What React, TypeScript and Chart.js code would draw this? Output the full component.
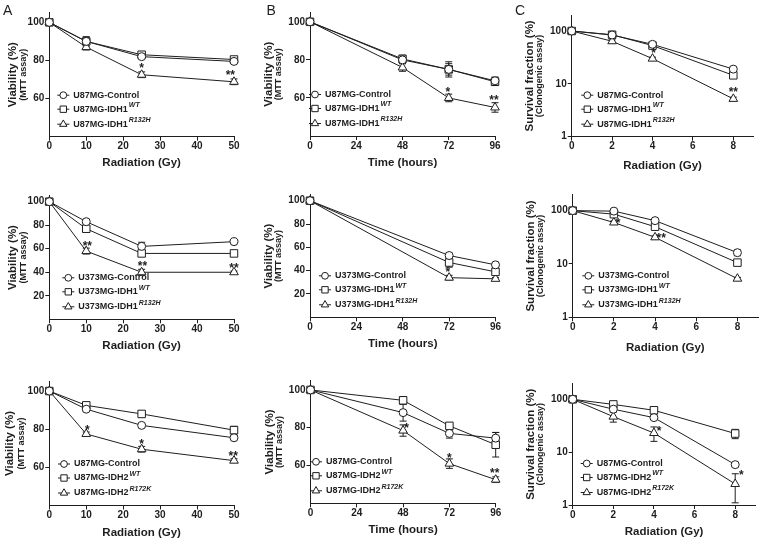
import React, { useEffect, useRef } from 'react';
import { Chart, registerables } from 'chart.js';

Chart.register(...registerables);

const FONT = "'Liberation Sans', Arial, Helvetica, sans-serif";
const INK = '#1e1e1e';

// ---------- x values ----------
const radiationGy = [0, 10, 25, 50];
const timeHours = [0, 48, 72, 96];
const timeHoursU373 = [0, 72, 96];
const clonogenicGy = [0, 2, 4, 8];

// ---------- tick labels ----------
const radiationTicks = [0, 10, 20, 30, 40, 50];
const timeTicks = [0, 24, 48, 72, 96];
const clonogenicTicks = [0, 2, 4, 6, 8];
const viabilityTicksUpper = [60, 80, 100];
const viabilityTicksFull = [20, 40, 60, 80, 100];
const survivalTicks = [1, 10, 100];

// ---------- axis titles ----------
const radiationTitle = 'Radiation (Gy)';
const timeTitle = 'Time (hours)';
const viabilityTitle = ['Viability (%)', '(MTT assay)'];
const survivalTitle = ['Survival fraction (%)', '(Clonogenic assay)'];

// ---------- legends ----------
const legendU87IDH1 = ['U87MG-Control', 'U87MG-IDH1', 'U87MG-IDH1'];
const legendU373IDH1 = ['U373MG-Control', 'U373MG-IDH1', 'U373MG-IDH1'];
const legendU87IDH2 = ['U87MG-Control', 'U87MG-IDH2', 'U87MG-IDH2'];
const supIDH1 = ['', 'WT', 'R132H'];
const supIDH2 = ['', 'WT', 'R172K'];

// ---------- row 1 : U87MG IDH1 ----------
const a1Control = [100, 90, 82, 79.5];
const a1ControlErr = [1, 1.5, 1, 1];
const a1WT = [100, 90, 83, 80.5];
const a1WTErr = [1, 2.5, 1, 1];
const a1Mut = [100, 87, 72.5, 68.8];
const a1MutErr = [1, 1.5, 1.5, 1.5];
const a1StarX = [25, 49];
const a1StarY = [77.4, 74];
const a1StarText = ['*', '**'];

const b1Control = [100, 80, 75, 69];
const b1ControlErr = [0.5, 2, 3, 2];
const b1WT = [100, 80.5, 75, 68.5];
const b1WTErr = [0.5, 2, 4, 2];
const b1Mut = [100, 76, 60, 55];
const b1MutErr = [0.5, 2, 2, 2.5];
const b1StarX = [71.5, 95.5];
const b1StarY = [64.8, 60.4];
const b1StarText = ['*', '**'];

const c1Control = [100, 84, 56, 19];
const c1ControlErr = [0, 4, 4, 1.5];
const c1WT = [100, 85, 53, 14.5];
const c1WTErr = [0, 4, 4, 1];
const c1Mut = [100, 64, 30, 5.2];
const c1MutErr = [0, 4, 2, 0.4];
const c1StarX = [4.05, 8];
const c1StarY = [43.7, 7.95];
const c1StarText = ['*', '**'];

// ---------- row 2 : U373MG IDH1 ----------
const a2Control = [100, 83, 62, 66];
const a2ControlErr = [1, 1.5, 3.5, 1];
const a2WT = [100, 77, 56, 56];
const a2WTErr = [1, 1.5, 2, 1];
const a2Mut = [100, 58, 40, 40];
const a2MutErr = [1, 2.5, 2.5, 1];
const a2StarX = [10.3, 25.2, 50];
const a2StarY = [65, 47.6, 46.2];
const a2StarText = ['**', '**', '**'];

const b2Control = [100, 53, 45];
const b2ControlErr = [0.5, 2, 2];
const b2WT = [100, 47, 39];
const b2WTErr = [0.5, 4, 2];
const b2Mut = [100, 34, 33];
const b2MutErr = [0.5, 2, 1];
const b2StarX = [71.3];
const b2StarY = [41.2];
const b2StarText = ['*'];

const c2Control = [100, 98, 65, 16.3];
const c2ControlErr = [0, 5, 5, 2];
const c2WT = [100, 86, 50, 10.6];
const c2WTErr = [0, 4, 4, 1];
const c2Mut = [100, 60, 31.6, 5.3];
const c2MutErr = [0, 4, 2, 0.3];
const c2StarX = [2.2, 4.3];
const c2StarY = [67, 35];
const c2StarText = ['*', '**'];

// ---------- row 3 : U87MG IDH2 ----------
const a3Control = [100, 90.5, 82, 75.5];
const a3ControlErr = [1, 1, 1, 1];
const a3WT = [100, 92.5, 88, 79.5];
const a3WTErr = [1, 1, 1, 2];
const a3Mut = [100, 77.5, 69.5, 63.5];
const a3MutErr = [1, 1, 1.5, 1];
const a3StarX = [10.3, 25, 49.8];
const a3StarY = [81.3, 73.5, 67.4];
const a3StarText = ['*', '*', '**'];

const b3Control = [100, 88, 77, 74.5];
const b3ControlErr = [0.5, 4.5, 2.5, 3];
const b3WT = [100, 94.5, 81, 71];
const b3WTErr = [0.5, 2, 1.5, 6.5];
const b3Mut = [100, 78.5, 61, 52.5];
const b3MutErr = [0.5, 3, 2.5, 1.5];
const b3StarX = [49.8, 72, 95.5];
const b3StarY = [81.5, 65.6, 57.7];
const b3StarText = ['*', '*', '**'];

const c3Control = [100, 65, 45, 5.8];
const c3ControlErr = [0, 4, 3, 0.5];
const c3WT = [100, 80, 62, 22.5];
const c3WTErr = [0, 5, 9, 4.5];
const c3Mut = [100, 47, 23, 2.5];
const c3MutErr = [0, 10, 7, 1.4];
const c3StarX = [4.25, 8.3];
const c3StarY = [28, 4.1];
const c3StarText = ['*', '*'];

// ---------- styling / layout (page pixel geometry) ----------
const MARKERS = ['circle', 'rect', 'triangle'];
const MARKER_R = [4, 5.3, 5];

type Layout = {
  cx: number; cy: number; cw: number; ch: number;
  left: number; right: number; top: number; bottom: number;
  xTitleY: number; yTitleDx: number[]; legendDx: number; legendDy: number[];
  letter?: string; letterX?: number;
};

const LEG_DY = [-41.5, -27.5, -12.5];

const LAYOUT: Record<string, Layout> = {
  A1: { cx: 0, cy: 0, cw: 252, ch: 180, left: 49.3, right: 234, top: 12.8, bottom: 136.7, xTitleY: 163.3, yTitleDx: [36, 26], legendDx: 14, legendDy: LEG_DY, letter: 'A', letterX: 3 },
  B1: { cx: 252, cy: 0, cw: 258, ch: 180, left: 310, right: 495, top: 12.3, bottom: 136, xTitleY: 163.3, yTitleDx: [41, 31], legendDx: 5, legendDy: LEG_DY, letter: 'B', letterX: 14.5 },
  C1: { cx: 508, cy: 0, cw: 255, ch: 180, left: 571.7, right: 753.5, top: 15.1, bottom: 136.7, xTitleY: 165.7, yTitleDx: [42, 32], legendDx: 15.6, legendDy: LEG_DY, letter: 'C', letterX: 7 },
  A2: { cx: 0, cy: 180, cw: 252, ch: 180, left: 49.3, right: 234, top: 195.8, bottom: 319.3, xTitleY: 345.7, yTitleDx: [36, 26], legendDx: 19, legendDy: LEG_DY },
  B2: { cx: 252, cy: 180, cw: 258, ch: 180, left: 310, right: 495.5, top: 194.9, bottom: 317.3, xTitleY: 344.3, yTitleDx: [41, 31], legendDx: 15, legendDy: LEG_DY },
  C2: { cx: 508, cy: 180, cw: 255, ch: 180, left: 572.7, right: 758, top: 194.6, bottom: 317.3, xTitleY: 348.3, yTitleDx: [42, 32], legendDx: 15.6, legendDy: LEG_DY },
  A3: { cx: 0, cy: 360, cw: 252, ch: 182, left: 49.3, right: 234, top: 381.5, bottom: 505.5, xTitleY: 532.7, yTitleDx: [39, 28], legendDx: 14.7, legendDy: LEG_DY },
  B3: { cx: 252, cy: 360, cw: 258, ch: 182, left: 310.5, right: 495.7, top: 380.5, bottom: 503.3, xTitleY: 530, yTitleDx: [41, 31], legendDx: 5.5, legendDy: LEG_DY },
  C3: { cx: 508, cy: 360, cw: 255, ch: 182, left: 572.7, right: 755.5, top: 383.4, bottom: 505, xTitleY: 532.3, yTitleDx: [42, 32], legendDx: 14, legendDy: LEG_DY },
};

type Panel = {
  key: string;
  x: number[]; xMax: number; xTicks: number[]; xTitle: string;
  log: boolean; yMin: number; yMax: number; yTicks: number[]; yTitle: string[];
  values: number[][]; errors: number[][];
  legend: string[]; sup: string[];
  starX: number[]; starY: number[]; starText: string[];
};

const PANELS: Panel[] = [
  { key: 'A1', x: radiationGy, xMax: 50, xTicks: radiationTicks, xTitle: radiationTitle, log: false, yMin: 40, yMax: 105, yTicks: viabilityTicksUpper, yTitle: viabilityTitle, values: [a1Control, a1WT, a1Mut], errors: [a1ControlErr, a1WTErr, a1MutErr], legend: legendU87IDH1, sup: supIDH1, starX: a1StarX, starY: a1StarY, starText: a1StarText },
  { key: 'B1', x: timeHours, xMax: 96, xTicks: timeTicks, xTitle: timeTitle, log: false, yMin: 40, yMax: 105, yTicks: viabilityTicksUpper, yTitle: viabilityTitle, values: [b1Control, b1WT, b1Mut], errors: [b1ControlErr, b1WTErr, b1MutErr], legend: legendU87IDH1, sup: supIDH1, starX: b1StarX, starY: b1StarY, starText: b1StarText },
  { key: 'C1', x: clonogenicGy, xMax: 9, xTicks: clonogenicTicks, xTitle: radiationTitle, log: true, yMin: 1, yMax: 200, yTicks: survivalTicks, yTitle: survivalTitle, values: [c1Control, c1WT, c1Mut], errors: [c1ControlErr, c1WTErr, c1MutErr], legend: legendU87IDH1, sup: supIDH1, starX: c1StarX, starY: c1StarY, starText: c1StarText },
  { key: 'A2', x: radiationGy, xMax: 50, xTicks: radiationTicks, xTitle: radiationTitle, log: false, yMin: 0, yMax: 105, yTicks: viabilityTicksFull, yTitle: viabilityTitle, values: [a2Control, a2WT, a2Mut], errors: [a2ControlErr, a2WTErr, a2MutErr], legend: legendU373IDH1, sup: supIDH1, starX: a2StarX, starY: a2StarY, starText: a2StarText },
  { key: 'B2', x: timeHoursU373, xMax: 96, xTicks: timeTicks, xTitle: timeTitle, log: false, yMin: 0, yMax: 105, yTicks: viabilityTicksFull, yTitle: viabilityTitle, values: [b2Control, b2WT, b2Mut], errors: [b2ControlErr, b2WTErr, b2MutErr], legend: legendU373IDH1, sup: supIDH1, starX: b2StarX, starY: b2StarY, starText: b2StarText },
  { key: 'C2', x: clonogenicGy, xMax: 9, xTicks: clonogenicTicks, xTitle: radiationTitle, log: true, yMin: 1, yMax: 200, yTicks: survivalTicks, yTitle: survivalTitle, values: [c2Control, c2WT, c2Mut], errors: [c2ControlErr, c2WTErr, c2MutErr], legend: legendU373IDH1, sup: supIDH1, starX: c2StarX, starY: c2StarY, starText: c2StarText },
  { key: 'A3', x: radiationGy, xMax: 50, xTicks: radiationTicks, xTitle: radiationTitle, log: false, yMin: 40, yMax: 105, yTicks: viabilityTicksUpper, yTitle: viabilityTitle, values: [a3Control, a3WT, a3Mut], errors: [a3ControlErr, a3WTErr, a3MutErr], legend: legendU87IDH2, sup: supIDH2, starX: a3StarX, starY: a3StarY, starText: a3StarText },
  { key: 'B3', x: timeHours, xMax: 96, xTicks: timeTicks, xTitle: timeTitle, log: false, yMin: 40, yMax: 105, yTicks: viabilityTicksUpper, yTitle: viabilityTitle, values: [b3Control, b3WT, b3Mut], errors: [b3ControlErr, b3WTErr, b3MutErr], legend: legendU87IDH2, sup: supIDH2, starX: b3StarX, starY: b3StarY, starText: b3StarText },
  { key: 'C3', x: clonogenicGy, xMax: 9, xTicks: clonogenicTicks, xTitle: radiationTitle, log: true, yMin: 1, yMax: 200, yTicks: survivalTicks, yTitle: survivalTitle, values: [c3Control, c3WT, c3Mut], errors: [c3ControlErr, c3WTErr, c3MutErr], legend: legendU87IDH2, sup: supIDH2, starX: c3StarX, starY: c3StarY, starText: c3StarText },
];

const TICK_FONT = { family: FONT, size: 10, weight: 'bold' as const };
const X_TITLE_FS = 11.5;
const STAR_FS = 12;

function drawMarker(ctx: CanvasRenderingContext2D, style: string, x: number, y: number, r: number) {
  ctx.beginPath();
  if (style === 'circle') {
    ctx.arc(x, y, r, 0, Math.PI * 2);
  } else if (style === 'rect') {
    const h = r * Math.SQRT1_2;
    ctx.rect(x - h, y - h, 2 * h, 2 * h);
  } else {
    ctx.moveTo(x, y - r);
    ctx.lineTo(x + r * 0.866, y + r / 2);
    ctx.lineTo(x - r * 0.866, y + r / 2);
    ctx.closePath();
  }
  ctx.fillStyle = '#fff';
  ctx.fill();
  ctx.strokeStyle = INK;
  ctx.lineWidth = 1;
  ctx.stroke();
}

function buildChart(canvas: HTMLCanvasElement, p: Panel) {
  const L = LAYOUT[p.key];
  const xBoxBottom = L.xTitleY + X_TITLE_FS * 0.6;

  const datasets = p.values.map((vals, i) => ({
    label: p.legend[i] + p.sup[i],
    data: p.x.map((xv, j) => ({ x: xv, y: vals[j] })),
    borderColor: INK,
    borderWidth: 1,
    backgroundColor: '#fff',
    pointStyle: MARKERS[i],
    pointRadius: MARKER_R[i],
    pointHoverRadius: MARKER_R[i],
    pointBorderWidth: 1,
    pointBorderColor: INK,
    pointBackgroundColor: '#fff',
    tension: 0,
    fill: false,
    clip: false,
  }));

  const overlay = {
    id: 'overlay' + p.key,
    beforeDatasetsDraw(chart: any) {
      const ctx: CanvasRenderingContext2D = chart.ctx;
      const xs = chart.scales.x;
      const ys = chart.scales.y;
      ctx.save();
      ctx.strokeStyle = INK;
      ctx.lineWidth = 1;
      p.values.forEach((vals, i) => {
        vals.forEach((v, j) => {
          const e = p.errors[i][j];
          if (!e) return;
          const px = xs.getPixelForValue(p.x[j]);
          const lo = p.log ? Math.max(v - e, p.yMin * 1.02) : v - e;
          const yTop = ys.getPixelForValue(v + e);
          const yBot = ys.getPixelForValue(lo);
          const cap = 3.5;
          ctx.beginPath();
          ctx.moveTo(px, yTop); ctx.lineTo(px, yBot);
          ctx.moveTo(px - cap, yTop); ctx.lineTo(px + cap, yTop);
          ctx.moveTo(px - cap, yBot); ctx.lineTo(px + cap, yBot);
          ctx.stroke();
        });
      });
      ctx.restore();
    },
    afterDraw(chart: any) {
      const ctx: CanvasRenderingContext2D = chart.ctx;
      const xs = chart.scales.x;
      const ys = chart.scales.y;
      const area = chart.chartArea;
      ctx.save();
      ctx.fillStyle = INK;

      // y-axis titles (two lines, different sizes)
      const cyMid = (area.top + area.bottom) / 2;
      ctx.textAlign = 'center';
      ctx.textBaseline = 'middle';
      ctx.save();
      ctx.translate(area.left - L.yTitleDx[0], cyMid);
      ctx.rotate(-Math.PI / 2);
      ctx.font = `bold 11.5px ${FONT}`;
      ctx.fillText(p.yTitle[0], 0, 0);
      ctx.restore();
      ctx.save();
      ctx.translate(area.left - L.yTitleDx[1], cyMid);
      ctx.rotate(-Math.PI / 2);
      ctx.font = `bold 9px ${FONT}`;
      ctx.fillText(p.yTitle[1], 0, 0);
      ctx.restore();

      // legend
      p.legend.forEach((name, i) => {
        const ly = area.bottom + L.legendDy[i];
        const mx = area.left + L.legendDx;
        ctx.strokeStyle = INK;
        ctx.lineWidth = 1;
        ctx.beginPath();
        ctx.moveTo(mx - 6, ly); ctx.lineTo(mx + 6, ly);
        ctx.stroke();
        drawMarker(ctx, MARKERS[i], mx, ly, MARKER_R[i] * 0.85);
        ctx.fillStyle = INK;
        ctx.textAlign = 'left';
        ctx.textBaseline = 'middle';
        ctx.font = `bold 9px ${FONT}`;
        const tx = mx + 10;
        ctx.fillText(name, tx, ly);
        if (p.sup[i]) {
          const w = ctx.measureText(name).width;
          ctx.font = `italic bold 7px ${FONT}`;
          ctx.fillText(p.sup[i], tx + w + 1, ly - 4);
        }
      });

      // significance asterisks
      ctx.font = `bold ${STAR_FS}px ${FONT}`;
      ctx.textAlign = 'center';
      ctx.textBaseline = 'alphabetic';
      p.starX.forEach((sx, k) => {
        const px = xs.getPixelForValue(sx);
        const py = ys.getPixelForValue(p.starY[k]);
        ctx.fillText(p.starText[k], px, py + STAR_FS * 0.57);
      });

      // panel letter
      if (L.letter) {
        ctx.font = `14px ${FONT}`;
        ctx.textAlign = 'left';
        ctx.textBaseline = 'alphabetic';
        ctx.fillText(L.letter, L.letterX as number, 15);
      }
      ctx.restore();
    },
  };

  const axisCommon = {
    bounds: 'data' as const,
    grid: { display: true, drawOnChartArea: false, drawTicks: true, tickLength: 4, color: INK, lineWidth: 1 },
    border: { display: true, color: INK, width: 1 },
  };

  return new Chart(canvas, {
    type: 'line',
    data: { datasets },
    options: {
      animation: false,
      responsive: false,
      devicePixelRatio: 1,
      events: [],
      layout: {
        autoPadding: false,
        padding: {
          left: 0,
          top: L.top - L.cy,
          right: L.cx + L.cw - L.right,
          bottom: L.cy + L.ch - xBoxBottom,
        },
      },
      plugins: { legend: { display: false }, tooltip: { enabled: false }, title: { display: false } },
      scales: {
        x: {
          ...axisCommon,
          type: 'linear',
          min: 0,
          max: p.xMax,
          afterBuildTicks: (s: any) => { s.ticks = p.xTicks.map((v) => ({ value: v })); },
          afterFit: (s: any) => { s.height = xBoxBottom - L.bottom; },
          ticks: { color: INK, font: TICK_FONT, padding: 0, maxRotation: 0, autoSkip: false, callback: (v: any) => String(v) },
          title: { display: true, text: p.xTitle, color: INK, padding: 0, font: { family: FONT, size: X_TITLE_FS, weight: 'bold', lineHeight: 1.2 } },
        },
        y: {
          ...axisCommon,
          type: p.log ? 'logarithmic' : 'linear',
          min: p.yMin,
          max: p.yMax,
          afterBuildTicks: (s: any) => { s.ticks = p.yTicks.map((v) => ({ value: v })); },
          afterFit: (s: any) => { s.width = L.left - L.cx; },
          ticks: { color: INK, font: TICK_FONT, padding: 1, autoSkip: false, callback: (v: any) => String(v) },
        },
      },
    } as any,
    plugins: [overlay],
  });
}

function PanelChart({ panel }: { panel: Panel }) {
  const ref = useRef<HTMLCanvasElement | null>(null);
  const L = LAYOUT[panel.key];
  useEffect(() => {
    if (!ref.current) return;
    const chart = buildChart(ref.current, panel);
    return () => chart.destroy();
  }, [panel]);
  return (
    <canvas
      ref={ref}
      width={L.cw}
      height={L.ch}
      style={{ position: 'absolute', left: L.cx, top: L.cy, width: L.cw, height: L.ch }}
    />
  );
}

export default function App() {
  return (
    <div style={{ position: 'absolute', left: 0, top: 0, width: 763, height: 542, overflow: 'hidden', background: '#fff' }}>
      {PANELS.map((p) => (
        <PanelChart key={p.key} panel={p} />
      ))}
    </div>
  );
}
